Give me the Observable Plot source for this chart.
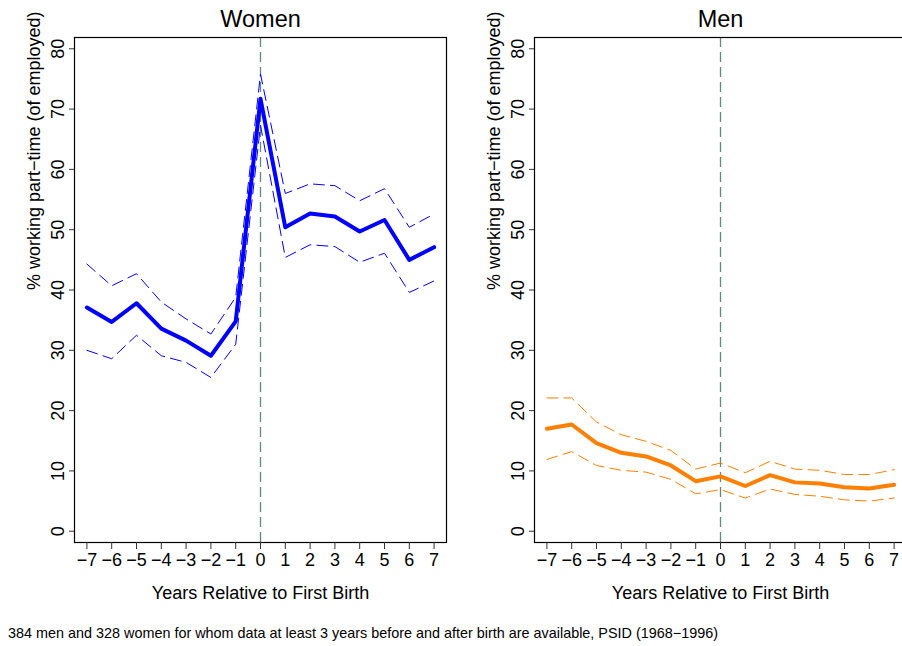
<!DOCTYPE html>
<html>
<head>
<meta charset="utf-8">
<script src="https://cdn.jsdelivr.net/npm/d3@7"></script>
<script src="https://cdn.jsdelivr.net/npm/@observablehq/plot@0.6"></script>
<style>
  body { margin: 0; background: #fff; }
  #chart {
    position: relative; width: 902px; height: 646px; overflow: hidden; background: #fff;
    font-family: "Liberation Sans", Arial, Helvetica, sans-serif; color: #000;
  }
  #chart svg { position: absolute; top: 0; }
  #caption { position: absolute; left: 8px; top: 625px; font-size: 14.4px; white-space: nowrap; }
</style>
</head>
<body>
<div id="chart"></div>
<script>
// Years relative to the first birth
const years = [-7, -6, -5, -4, -3, -2, -1, 0, 1, 2, 3, 4, 5, 6, 7];
const yTicks = [0, 10, 20, 30, 40, 50, 60, 70, 80];

// Share working part-time among employed women, with 95% bounds
const womenMean  = [37.1, 34.7, 37.8, 33.6, 31.6, 29.1, 34.8, 71.7, 50.4, 52.7, 52.2, 49.7, 51.6, 45.0, 47.1];
const womenUpper = [44.3, 40.7, 42.7, 38.0, 35.2, 32.7, 38.8, 75.8, 56.0, 57.6, 57.3, 54.8, 56.8, 50.4, 52.6];
const womenLower = [30.0, 28.6, 32.5, 29.1, 28.0, 25.5, 31.0, 67.3, 45.4, 47.5, 47.2, 44.6, 46.1, 39.6, 41.5];

// Same for men
const menMean  = [17.0, 17.7, 14.6, 13.0, 12.4, 10.9, 8.3, 9.1, 7.5, 9.3, 8.1, 7.9, 7.3, 7.1, 7.7];
const menUpper = [22.1, 22.1, 18.1, 16.0, 14.9, 13.4, 10.3, 11.3, 9.7, 11.6, 10.3, 10.1, 9.4, 9.4, 10.2];
const menLower = [11.9, 13.2, 10.9, 10.1, 9.8, 8.6, 6.2, 6.9, 5.5, 7.0, 6.1, 5.8, 5.2, 5.0, 5.5];

const xLabel = "Years Relative to First Birth";
const yLabel = "% working part\u2212time (of employed)";
const captionText = "384 men and 328 women for whom data at least 3 years before and after birth are available, PSID (1968\u22121996)";

const font = "'Liberation Sans', Arial, Helvetica, sans-serif";

function panel(title, mean, upper, lower, color) {
  const rows = years.map((t, i) => ({t, mean: mean[i], upper: upper[i], lower: lower[i]}));
  const band = {x: "t", stroke: color, strokeWidth: 1, strokeDasharray: "11,6"};
  return Plot.plot({
    width: 451,
    height: 600,
    marginLeft: 74,
    marginRight: 5,
    marginTop: 37,
    marginBottom: 58,
    style: {fontFamily: font, fontSize: "18px", color: "#000", background: "transparent", overflow: "visible"},
    x: {domain: [-7.5, 7.5]},
    y: {domain: [-1.87, 81.87]},
    marks: [
      Plot.ruleX([0], {stroke: "#5f8b7a", strokeWidth: 1.3, strokeDasharray: "10,5"}),
      Plot.line(rows, {...band, y: "upper"}),
      Plot.line(rows, {...band, y: "lower"}),
      Plot.line(rows, {x: "t", y: "mean", stroke: color, strokeWidth: 4, strokeLinejoin: "round"}),
      Plot.frame({stroke: "#000", strokeWidth: 1.2}),
      Plot.axisX({ticks: years, tickSize: 7, tickPadding: 4, fontSize: 18, label: null, stroke: "#333"}),
      Plot.axisY({ticks: yTicks, tickSize: 5, tickPadding: 6, tickRotate: -90, fontSize: 18, label: null, stroke: "#333"}),
      Plot.text([title], {frameAnchor: "top", dy: -10.3, lineAnchor: "bottom", fontSize: 23.5}),
      Plot.text([xLabel], {frameAnchor: "bottom", dy: 43.7, lineAnchor: "top", fontSize: 18}),
      Plot.text([yLabel], {frameAnchor: "left", dx: -40, rotate: -90, fontSize: 18})
    ]
  });
}

const chart = document.getElementById("chart");

const women = panel("Women", womenMean, womenUpper, womenLower, "#0000ff");
women.style.left = "0px";
chart.appendChild(women);

const men = panel("Men", menMean, menUpper, menLower, "#ff7f00");
men.style.left = "460px";
chart.appendChild(men);

const caption = document.createElement("div");
caption.id = "caption";
caption.textContent = captionText;
chart.appendChild(caption);
</script>
</body>
</html>
